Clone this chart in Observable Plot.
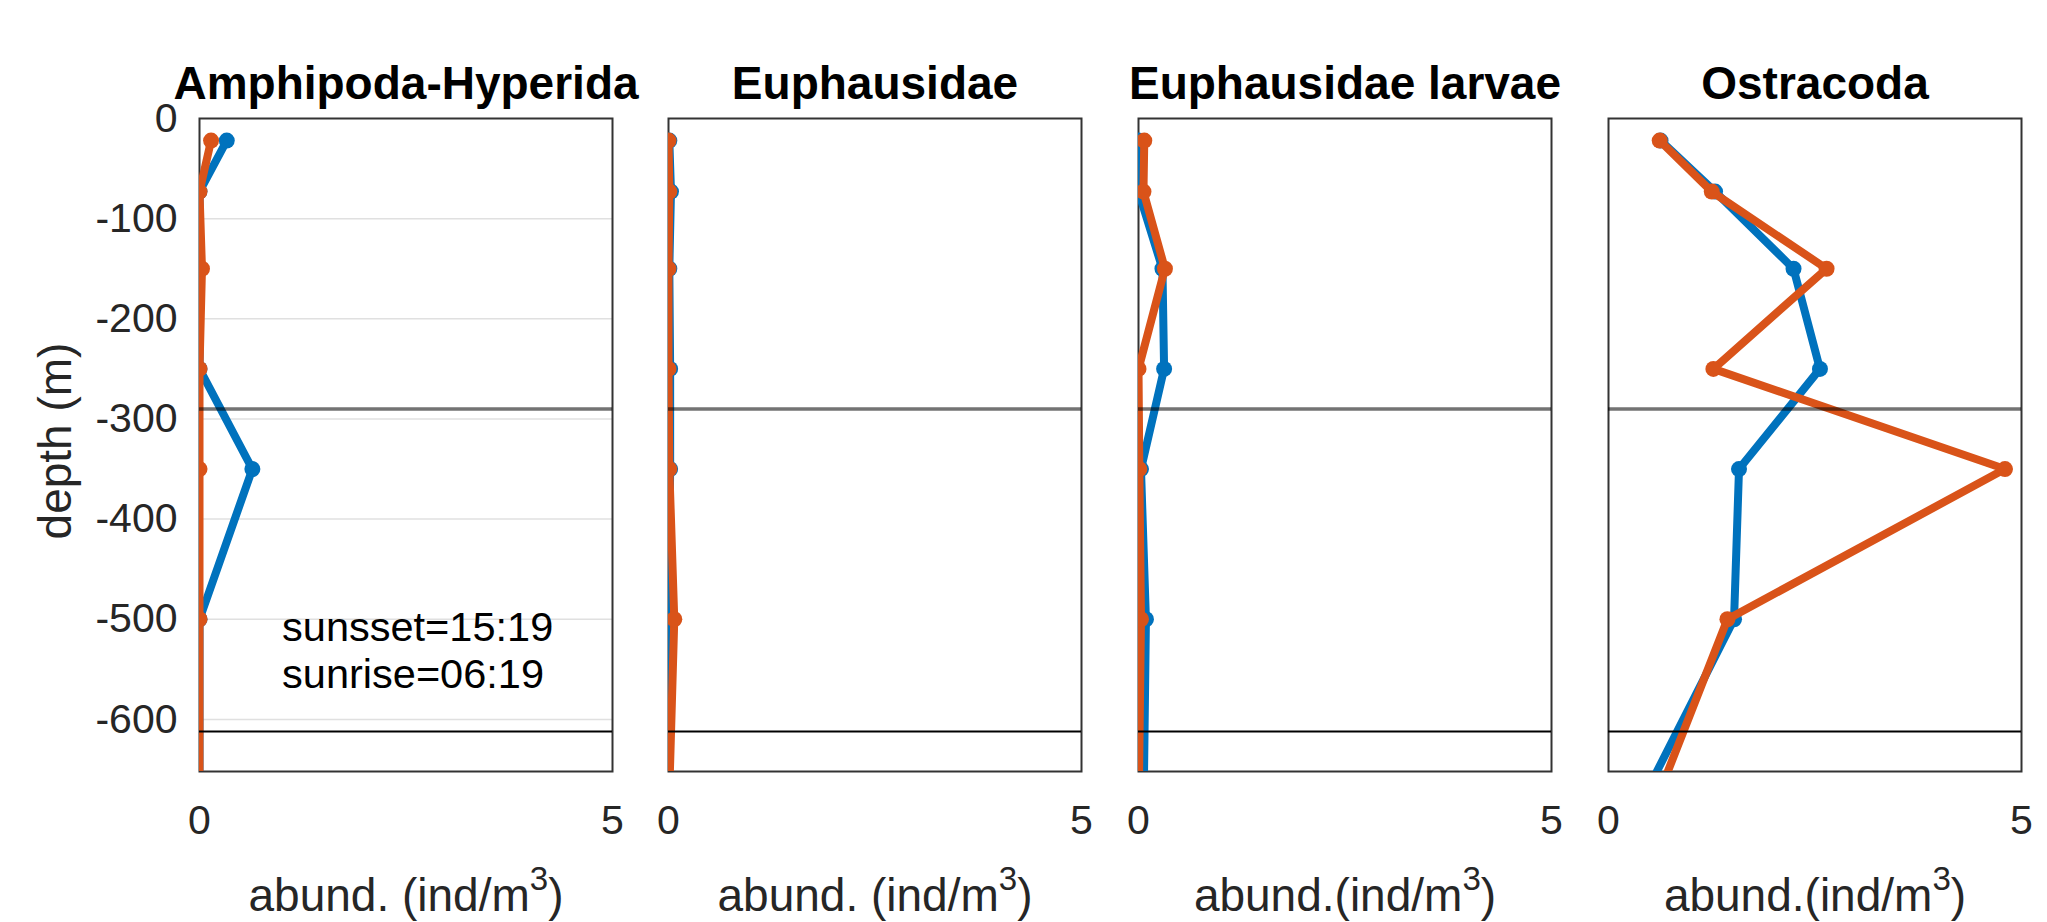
<!DOCTYPE html>
<html>
<head>
<meta charset="utf-8">
<script src="https://cdn.jsdelivr.net/npm/d3@7"></script>
<script src="https://cdn.jsdelivr.net/npm/@observablehq/plot@0.6"></script>
<style>
  html, body { margin: 0; padding: 0; background: #fff; }
  #chart { position: relative; width: 2047px; height: 922px; overflow: hidden; background: #fff; }
  #chart svg { position: absolute; top: 0; overflow: visible; }
</style>
</head>
<body>
<div id="chart"></div>
<script>
// ---------------- data ----------------
const depths = [-22, -73, -150, -250, -350, -500, -700];
const taxa = ["Amphipoda-Hyperida", "Euphausidae", "Euphausidae larvae", "Ostracoda"];
const xLabels = ["abund. (ind/m³)", "abund. (ind/m³)", "abund.(ind/m³)", "abund.(ind/m³)"];

const amphipodaBlue   = [0.33, 0.00, 0.01, 0.00, 0.64, 0.00, 0.00];
const amphipodaOrange = [0.14, 0.00, 0.03, 0.00, 0.00, 0.00, 0.00];
const euphausidaeBlue   = [0.01, 0.03, 0.01, 0.02, 0.02, 0.00, 0.00];
const euphausidaeOrange = [0.00, 0.01, 0.00, 0.00, 0.01, 0.07, 0.00];
const larvaeBlue   = [0.00, 0.00, 0.29, 0.31, 0.03, 0.09, 0.06];
const larvaeOrange = [0.07, 0.06, 0.32, 0.00, 0.01, 0.03, 0.00];
const ostracodaBlue   = [0.63, 1.29, 2.24, 2.56, 1.58, 1.52, 0.29];
const ostracodaOrange = [0.62, 1.25, 2.64, 1.27, 4.80, 1.44, 0.49];

const blueSeries = [amphipodaBlue, euphausidaeBlue, larvaeBlue, ostracodaBlue];
const orangeSeries = [amphipodaOrange, euphausidaeOrange, larvaeOrange, ostracodaOrange];

const yTicks = [0, -100, -200, -300, -400, -500, -600];
const gridDepths = [-100, -200, -300, -400, -500, -600];
const xTicks = [0, 5];
const grayLineDepth = [-290];
const blackLineDepth = [-612];
const yDomain = [-652, 0];
const xDomain = [0, 5];
const sunText = ["sunsset=15:19\nsunrise=06:19"];
const sunPos = {x: 1.0, y: -489};

// ---------------- style / layout ----------------
const BLUE = "#0072BD", ORANGE = "#D95319";
const FONT = "'Liberation Sans', Arial, Helvetica, sans-serif";
const layout = [
  {left: 0,    width: 640, mL: 199, mR: 28},
  {left: 640,  width: 470, mL: 28,  mR: 29},
  {left: 1110, width: 470, mL: 28,  mR: 29},
  {left: 1580, width: 467, mL: 28,  mR: 26}
];

const chart = document.getElementById("chart");

taxa.forEach((taxon, i) => {
  const L = layout[i];
  const blueRows = depths.map((d, j) => ({depth: d, value: blueSeries[i][j]}));
  const orangeRows = depths.map((d, j) => ({depth: d, value: orangeSeries[i][j]}));
  const marks = [];
  if (i === 0) marks.push(Plot.ruleY(gridDepths, {stroke: "#e0e0e0", strokeWidth: 1.5}));
  marks.push(Plot.frame({stroke: "#333", strokeWidth: 2}));
  marks.push(Plot.line(blueRows, {x: "value", y: "depth", stroke: BLUE, strokeWidth: 8, clip: true}));
  marks.push(Plot.dot(blueRows, {x: "value", y: "depth", r: 8, fill: BLUE, clip: true}));
  marks.push(Plot.line(orangeRows, {x: "value", y: "depth", stroke: ORANGE, strokeWidth: 8, clip: true}));
  marks.push(Plot.dot(orangeRows, {x: "value", y: "depth", r: 8, fill: ORANGE, clip: true}));
  marks.push(Plot.ruleY(grayLineDepth, {stroke: "#000", strokeOpacity: 0.55, strokeWidth: 3.5}));
  marks.push(Plot.ruleY(blackLineDepth, {stroke: "#000", strokeWidth: 2}));
  marks.push(Plot.axisX({ticks: xTicks, tickFormat: d => String(d), tickSize: 0, tickPadding: 33,
    fontSize: 41, label: null}));
  marks.push(Plot.text([taxon], {frameAnchor: "top", lineAnchor: "bottom", dy: -20, text: d => d,
    fontSize: 46, fontWeight: "bold", fill: "#000"}));
  marks.push(Plot.text([xLabels[i]], {frameAnchor: "bottom", lineAnchor: "bottom", dy: 139, text: d => d,
    fontSize: 46}));
  if (i === 0) {
    marks.push(Plot.axisY({ticks: yTicks, tickFormat: d => String(d), tickSize: 0, tickPadding: 22,
      fontSize: 41, label: null}));
    marks.push(Plot.text(["depth (m)"], {frameAnchor: "left", textAnchor: "middle", lineAnchor: "bottom",
      rotate: -90, dx: -129, dy: -4, text: d => d, fontSize: 46}));
    marks.push(Plot.text(sunText, {x: () => sunPos.x, y: () => sunPos.y, text: d => d,
      textAnchor: "start", lineAnchor: "top", lineHeight: 1.12, fontSize: 41.5, fill: "#000"}));
  }
  const svg = Plot.plot({
    width: L.width,
    height: 922,
    marginLeft: L.mL,
    marginRight: L.mR,
    marginTop: 118,
    marginBottom: 151,
    x: {domain: xDomain, axis: null},
    y: {domain: yDomain, axis: null},
    style: {fontFamily: FONT, fontSize: "41px", color: "#262626", background: "transparent", overflow: "visible"},
    marks
  });
  svg.style.left = L.left + "px";
  svg.style.position = "absolute";
  svg.style.top = "0px";
  chart.appendChild(svg);

  // render the "³" of the unit as a MATLAB-like superscript digit
  svg.querySelectorAll("text").forEach(t => {
    if (t.children.length === 0 && t.textContent.includes("³")) {
      const [before, after] = t.textContent.split("³");
      t.textContent = "";
      const ns = "http://www.w3.org/2000/svg";
      const a = document.createElementNS(ns, "tspan"); a.textContent = before;
      const s = document.createElementNS(ns, "tspan"); s.textContent = "3";
      s.setAttribute("font-size", "0.72em"); s.setAttribute("dy", "-0.62em");
      const b = document.createElementNS(ns, "tspan"); b.textContent = after;
      b.setAttribute("dy", "0.45em");
      t.append(a, s, b);
    }
  });
});
</script>
</body>
</html>
